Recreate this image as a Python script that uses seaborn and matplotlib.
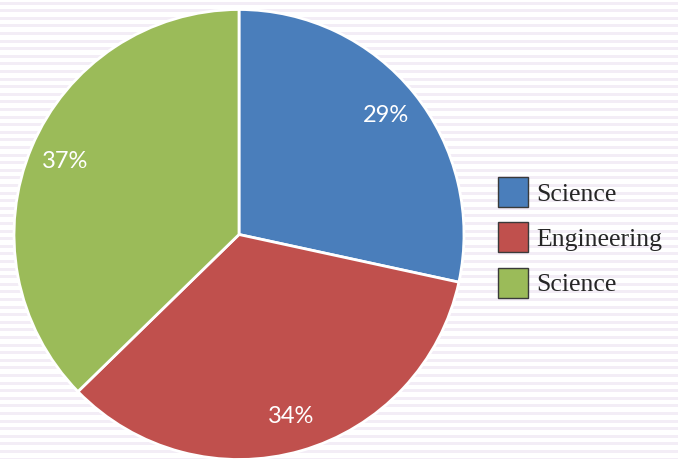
import numpy as np
import matplotlib
matplotlib.use("Agg")
import matplotlib.pyplot as plt
import matplotlib.patches as mpatches
import seaborn as sns

# --- data ---
categories = ["Science", "Engineering", "Science"]
shares = [28.4, 34.3, 37.3]          # wedge sizes as drawn
pct_labels = ["29%", "34%", "37%"]   # labels as printed on the chart
colors = ["#4A7EBB", "#C0504D", "#9BBB59"]

W, H = 678, 459
sns.set_theme(style="white")
plt.rcParams["font.family"] = ["Lato", "DejaVu Sans"]

fig = plt.figure(figsize=(W / 100, H / 100), dpi=100)
fig.patch.set_facecolor("white")

# striped background
bg = fig.add_axes([0, 0, 1, 1])
bg.set_xlim(0, W)
bg.set_ylim(H, 0)
bg.axis("off")
for y0 in np.arange(1.5, H, 7.6):
    bg.axhspan(y0, y0 + 3, color="#F3EDF6", lw=0)

# pie
cx, cy, r = 239, 234.5, 225
ax = fig.add_axes([(cx - r) / W, (H - cy - r) / H, 2 * r / W, 2 * r / H])
wedges, texts = ax.pie(
    shares, colors=colors, startangle=90, counterclock=False,
    labels=pct_labels, labeldistance=0.84, radius=1, frame=False,
    wedgeprops=dict(edgecolor="white", linewidth=2),
    textprops=dict(color="white", fontsize=17, ha="center", va="center"),
)
for t in texts:
    t.set_horizontalalignment("center")
ax.set_xlim(-1, 1)
ax.set_ylim(-1, 1)
ax.axis("off")
for w in wedges:
    w.set_clip_on(False)

# legend
handles = [mpatches.Patch(facecolor=c, edgecolor="#3a3a3a", linewidth=1) for c in colors]
fig.legend(
    handles, categories, loc="upper left",
    bbox_to_anchor=(498 / W, 1 - 177 / H), frameon=False,
    borderpad=0, borderaxespad=0,
    handlelength=1.17, handleheight=1.42, handletextpad=0.33, labelspacing=0.6,
    prop=dict(family="Liberation Serif", size=18.5),
    labelcolor="#262626",
)

fig.savefig("out.png", dpi=100)
